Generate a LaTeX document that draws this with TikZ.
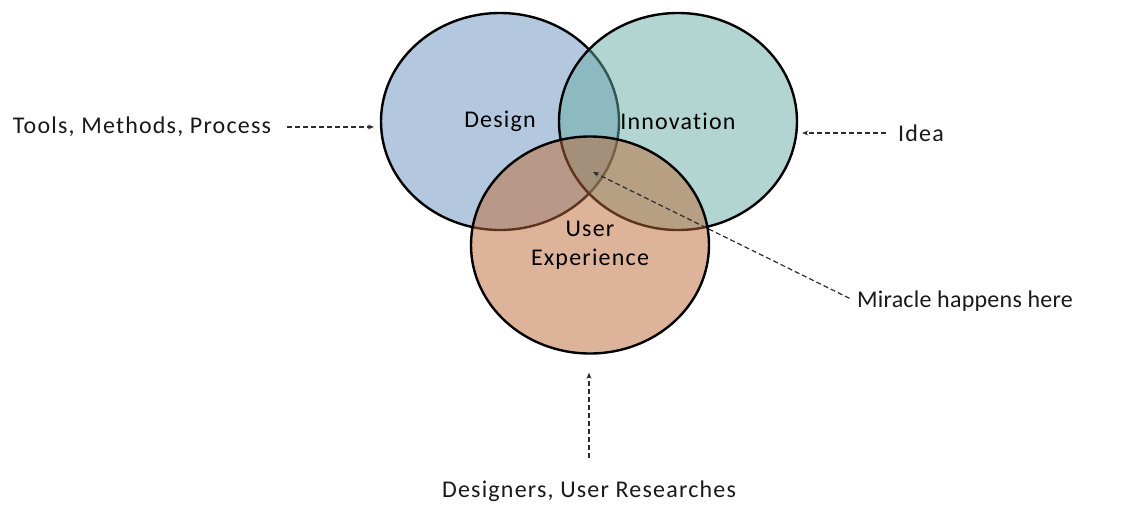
\documentclass[tikz,border=0pt]{standalone}
\usepackage{fontspec}
\setmainfont{Carlito}[Ligatures=NoCommon, LetterSpace=5]
\usetikzlibrary{arrows.meta,shapes.geometric}
\definecolor{dsgblue}{RGB}{103,145,189}
\definecolor{innteal}{RGB}{103,171,165}
\definecolor{uxorange}{RGB}{187,105,53}
\definecolor{linkgray}{RGB}{45,45,45}

\begin{document}
\begin{tikzpicture}[
    x=1pt, y=-1pt,
    font=\fontsize{24}{30}\selectfont,
    set/.style={ellipse, draw=black, line width=2.4pt, fill opacity=0.5, text opacity=1, inner sep=0pt, align=center, minimum width=238pt, minimum height=217pt},
    lbl/.style={inner sep=2pt, text=black!90},
    link/.style={-{Stealth[length=6pt, width=5pt]}, dashed, dash pattern=on 5pt off 3pt, line width=1.2pt, linkgray}
  ]
    \useasboundingbox (0,0) rectangle (1137,506);
    % the three overlapping sets, drawn in order so later fills tint earlier outlines
    \node[set, fill=dsgblue] (design) at (500,121.5) {Design};
    \node[set, fill=innteal] (innov) at (678,121.5) {Innovation};
    \node[set, fill=uxorange] (ux) at (590,245) {User\\[-1pt]Experience};
    \coordinate (core) at (593,172);

    \node[lbl] (tools) at (142,127) {Tools, Methods, Process};
    \node[lbl] (idea) at (921,133) {Idea};
    \node[lbl, font=\fontsize{24}{30}\selectfont\addfontfeatures{LetterSpace=1}] (miracle) at (965,301) {Miracle happens here};
    \node[lbl] (people) at (589,491) {Designers, User Researches};

    \draw[link, shorten <=14pt, shorten >=6pt] (tools.east) -- (tools.east -| design.west);
    \draw[link, shorten <=10pt, shorten >=4pt] (idea.west) -- (idea.west -| innov.east);
    \draw[link, shorten <=6pt] (miracle.west) -- (core);
    \draw[link, shorten <=20pt, shorten >=18pt] (people.north) -- (people.north |- ux.south);
  \end{tikzpicture}
\end{document}
